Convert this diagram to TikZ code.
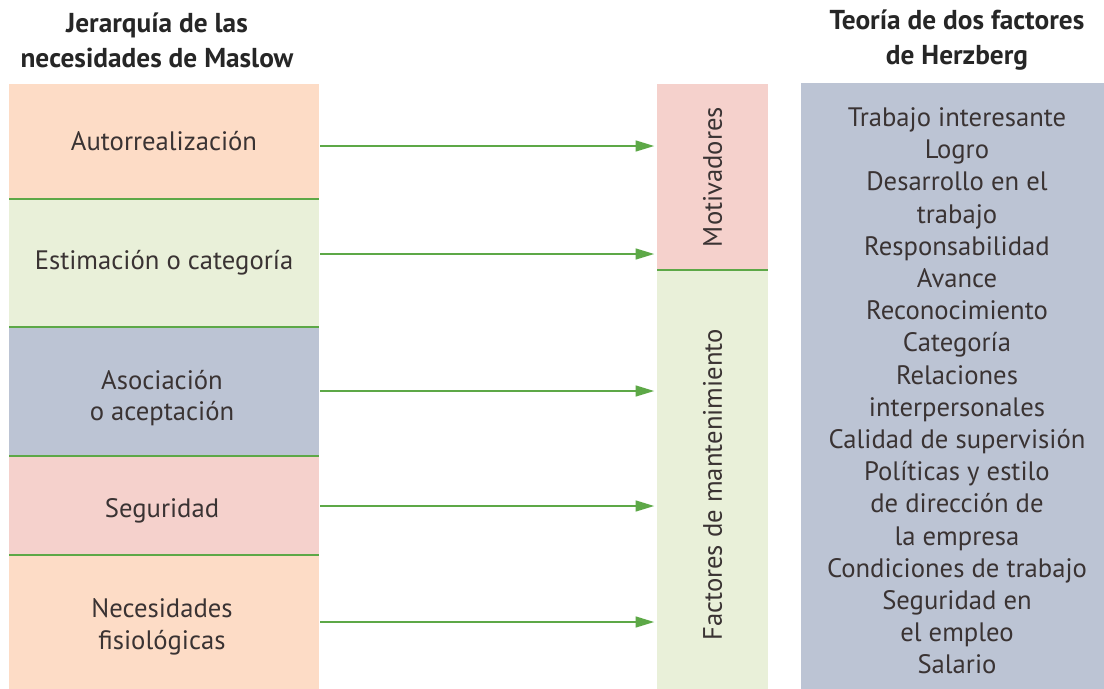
\documentclass[tikz,border=0pt]{standalone}
\usepackage{fontspec}
\setmainfont{PT Sans}
\usetikzlibrary{arrows.meta}
\definecolor{peach}{HTML}{FDDCC6}
\definecolor{lgreen}{HTML}{E9F0D9}
\definecolor{bgrey}{HTML}{BCC4D4}
\definecolor{pinkc}{HTML}{F5D1CC}
\definecolor{gline}{HTML}{5DA847}
\definecolor{txt}{HTML}{3A3333}
\tikzset{
  box/.style={inner sep=0pt, outer sep=0pt, text=txt, align=center,
    font=\fontsize{20}{23.5}\selectfont},
  divline/.style={draw=gline, line width=1.6pt},
  arr/.style={draw=gline, line width=1.7pt, -{Triangle[length=14pt,width=8pt]}, shorten >=2pt},
  title/.style={font=\fontsize{20.5}{26.25}\selectfont\bfseries, text=black!85, align=center}
}
\begin{document}
\begin{tikzpicture}[x=0.75pt,y=-0.75pt]
\useasboundingbox (0,0) rectangle (1104,689);
% headers
\node[title] (h1) at (157,40) {Jerarquía de las\\necesidades de Maslow};
\node[title] (h2) at (957,40) {Teoría de dos factores\\de Herzberg};
% left column
\node[box, fill=peach, minimum width=232.5pt, minimum height=86.25pt] (b1) at (164,141.5) {Autorrealización};
\node[box, fill=lgreen, minimum width=232.5pt, minimum height=96pt] (b2) at (164,263) {Estimación o categoría};
\node[box, fill=bgrey, minimum width=232.5pt, minimum height=96.75pt] (b3) at (164,391.5) {};
\node[box] (b3l) at (162,398) {Asociación\\o aceptación};
\node[box, fill=pinkc, minimum width=232.5pt, minimum height=74.25pt] (b4) at (164,505.5) {};
\node[box] (b4l) at (162,511) {Seguridad};
\node[box, fill=peach, minimum width=232.5pt, minimum height=100.5pt] (b5) at (164,622) {};
\node[box] (b5l) at (162,627) {Necesidades\\fisiológicas};
\draw[divline] (b1.south west) -- (b1.south east);
\draw[divline] (b2.south west) -- (b2.south east);
\draw[divline] (b3.south west) -- (b3.south east);
\draw[divline] (b4.south west) -- (b4.south east);
% middle column
\node[box, fill=pinkc, minimum width=83.25pt, minimum height=139.5pt] (mot) at (712.5,177) {};
\node[box, rotate=90] (motl) at (712.5,177) {Motivadores};
\node[box, fill=lgreen, minimum width=83.25pt, minimum height=314.25pt] (fac) at (712.5,479.5) {};
\node[box, rotate=90] (facl) at (712.5,485) {Factores de mantenimiento};
\draw[divline] (mot.south west) -- (mot.south east);
% right column
\node[box, fill=bgrey, minimum width=227.25pt, minimum height=454.5pt] (her) at (952.5,386) {};
\node[box, font=\fontsize{20}{24.15}\selectfont] (herl) at (957,391) {Trabajo interesante\\Logro\\Desarrollo en el\\trabajo\\Responsabilidad\\Avance\\Reconocimiento\\Categoría\\Relaciones\\interpersonales\\Calidad de supervisión\\Políticas y estilo\\de dirección de\\la empresa\\Condiciones de trabajo\\Seguridad en\\el empleo\\Salario};
% arrows
\coordinate (s1) at (320,146);
\coordinate (s2) at (320,254);
\coordinate (s3) at (320,391);
\coordinate (s4) at (320,506);
\coordinate (s5) at (320,622);
\draw[arr] (s1) -- (s1 -| mot.west);
\draw[arr] (s2) -- (s2 -| mot.west);
\draw[arr] (s3) -- (s3 -| fac.west);
\draw[arr] (s4) -- (s4 -| fac.west);
\draw[arr] (s5) -- (s5 -| fac.west);
\end{tikzpicture}
\end{document}
